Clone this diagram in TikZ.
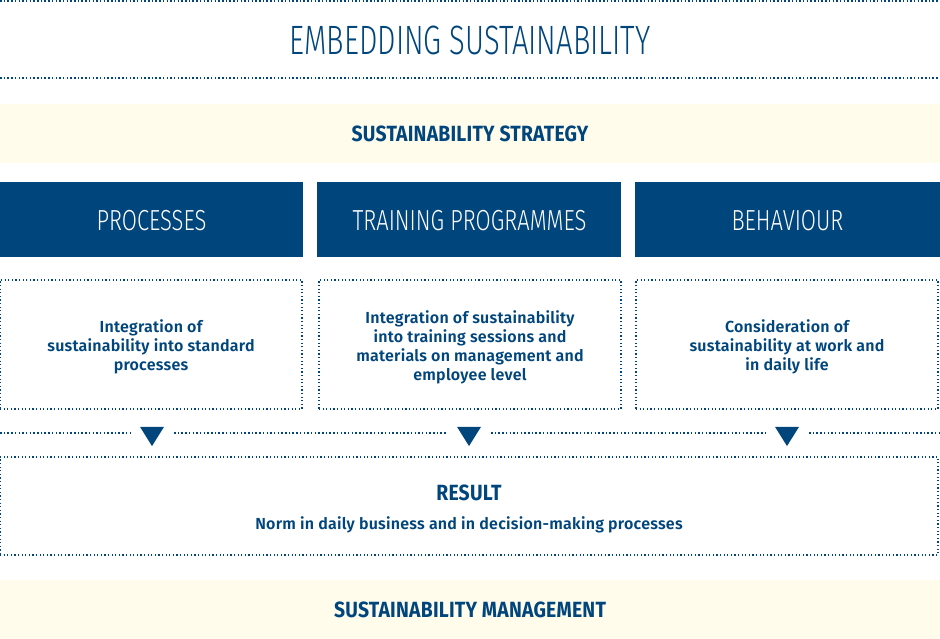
\documentclass[tikz,border=0pt]{standalone}
\usepackage{fontspec}
\usetikzlibrary{shapes.geometric}
\setmainfont{Fira Sans}
\newfontfamily\titlecond[FakeStretch=0.71,UprightFont={* Light}]{Fira Sans}
\newfontfamily\lightcond[FakeStretch=0.757,UprightFont={* Light}]{Fira Sans}
\newfontfamily\boldcond[FakeStretch=0.88,LetterSpace=1,UprightFont={* Bold}]{Fira Sans}
\newfontfamily\bodyfont[LetterSpace=1.5,UprightFont={* SemiBold}]{Fira Sans}
\definecolor{dblue}{HTML}{00457C}
\definecolor{cream}{HTML}{FFFCEC}
\tikzset{
  dotline/.style={draw=dblue, line width=1.5pt, dash pattern=on 1.5pt off 2.2pt},
  dotbox/.style={draw=dblue, line width=1.2pt, dash pattern=on 1.2pt off 2.4pt, rectangle, inner sep=0pt},
  band/.style={fill=cream, draw=none, rectangle, minimum width=940pt, minimum height=59pt, inner sep=0pt, text=dblue, font=\boldcond\fontsize{22}{24}\selectfont},
  bluebox/.style={fill=dblue, draw=none, rectangle, minimum height=75pt, inner sep=0pt, text=white, font=\lightcond\fontsize{29}{32}\selectfont},
  boxlabel/.style={text=white, inner sep=0pt, font=\lightcond\fontsize{29}{32}\selectfont},
  bodytext/.style={text=dblue, align=center, font=\bodyfont\fontsize{16}{19}\selectfont},
  headtext/.style={text=dblue, font=\boldcond\fontsize{22}{24}\selectfont},
  tri/.style={isosceles triangle, isosceles triangle apex angle=64, shape border rotate=270, fill=dblue, draw=none, inner sep=0pt, minimum height=19pt, minimum width=24pt}
}
\begin{document}
\begin{tikzpicture}[x=1pt,y=-1pt]
\useasboundingbox (0,0) rectangle (940,639);
% top dotted rule
\coordinate (tl0) at (0,1);
\coordinate (tr0) at (940,1);
\draw[dotline] (tl0) -- (tr0);
% title
\node[text=dblue, font=\titlecond\fontsize{41}{44}\selectfont, inner sep=0pt] (title) at (470,40) {EMBEDDING SUSTAINABILITY};
\coordinate (tl1) at (0,78);
\coordinate (tr1) at (940,78);
\draw[dotline] (tl1) -- (tr1);
% strategy band
\node[band] (strategy) at (470,133.5) {SUSTAINABILITY STRATEGY};
% blue boxes
\node[bluebox, minimum width=303pt] (proc) at (151.5,219.5) {};
\node[bluebox, minimum width=304pt] (train) at (469,219.5) {};
\node[bluebox, minimum width=305pt] (beh) at (787.5,219.5) {};
\node[boxlabel] (procl) at (151.5,221) {PROCESSES};
\node[boxlabel] (trainl) at (469.5,221) {TRAINING PROGRAMMES};
\node[boxlabel] (behl) at (787.5,221) {BEHAVIOUR};
% dotted boxes
\node[dotbox, minimum width=302pt, minimum height=129pt] (d1) at (151,344.5) {};
\node[dotbox, minimum width=302pt, minimum height=129pt] (d2) at (470,344.5) {};
\node[dotbox, minimum width=302pt, minimum height=129pt] (d3) at (787,344.5) {};
\node[bodytext] (t1) at (151,347) {Integration of\\sustainability into standard\\processes};
\node[bodytext] (t2) at (470,347) {Integration of sustainability\\into training sessions and\\materials on management and\\employee level};
\node[bodytext] (t3) at (787,347) {Consideration of\\sustainability at work and\\in daily life};
% triangles row
\node[tri] (a1) at (152,433.5) {};
\node[tri] (a2) at (469,433.5) {};
\node[tri] (a3) at (787,433.5) {};
\coordinate (rl) at (0,433);
\coordinate (rr) at (940,433);
\draw[dotline, shorten >=14pt] (rl) -- (rl -| a1.west);
\draw[dotline, shorten <=14pt, shorten >=14pt] (rl -| a1.east) -- (rl -| a2.west);
\draw[dotline, shorten <=14pt, shorten >=14pt] (rl -| a2.east) -- (rl -| a3.west);
\draw[dotline, shorten <=14pt] (rl -| a3.east) -- (rr);
% result box
\node[dotbox, minimum width=938pt, minimum height=98pt] (res) at (469,506) {};
\node[headtext] (resh) at (469,493) {RESULT};
\node[bodytext] (rest) at (469,525) {Norm in daily business and in decision-making processes};
% management band
\node[band, minimum height=60pt] (mgmt) at (470,609.5) {SUSTAINABILITY MANAGEMENT};
\end{tikzpicture}
\end{document}
